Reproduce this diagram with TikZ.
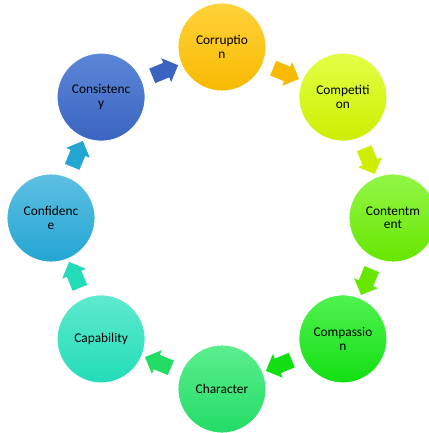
\documentclass[tikz,border=0pt]{standalone}
\usepackage{fontspec}
\setmainfont{Carlito}
\usetikzlibrary{shapes.arrows}

\definecolor{corrT}{HTML}{FFD23A}\definecolor{corrB}{HTML}{F8BA00}
\definecolor{compT}{HTML}{E2FF45}\definecolor{compB}{HTML}{CDEE00}
\definecolor{contT}{HTML}{93F746}\definecolor{contB}{HTML}{66E600}
\definecolor{cmpsT}{HTML}{50F250}\definecolor{cmpsB}{HTML}{12DF12}
\definecolor{charT}{HTML}{5CEE8E}\definecolor{charB}{HTML}{22DC66}
\definecolor{capaT}{HTML}{5EEACD}\definecolor{capaB}{HTML}{22DCB8}
\definecolor{confT}{HTML}{5DBFE2}\definecolor{confB}{HTML}{23A6D2}
\definecolor{consT}{HTML}{5C87D8}\definecolor{consB}{HTML}{3A64C0}

\tikzset{
  ring/.style={circle, minimum size=1.76cm, inner sep=0pt, align=center,
    draw=white, line width=0.5pt, font=\fontsize{7.6}{7.6}\selectfont},
  pfeil/.style={single arrow, minimum height=0.56cm, minimum width=0.5cm,
    single arrow head extend=0.1cm, inner sep=0.15cm, draw=none}
}

\begin{document}
\begin{tikzpicture}

\useasboundingbox (-4.44,-4.30) rectangle (4.14,4.36);

% die acht Kreise, im Uhrzeigersinn ab oben
\node[ring, top color=corrT, bottom color=corrB] (Corr) at (90:3.42) {Corruptio\\n};
\node[ring, top color=compT, bottom color=compB] (Comp) at (45:3.42) {Competiti\\on};
\node[ring, top color=contT, bottom color=contB] (Cont) at (0:3.42) {Contentm\\ent};
\node[ring, top color=cmpsT, bottom color=cmpsB] (Cmps) at (-45:3.42) {Compassio\\n};
\node[ring, top color=charT, bottom color=charB] (Char) at (-90:3.42) {Character};
\node[ring, top color=capaT, bottom color=capaB] (Capa) at (-135:3.42) {Capability};
\node[ring, top color=confT, bottom color=confB] (Conf) at (180:3.42) {Confidenc\\e};
\node[ring, top color=consT, bottom color=consB] (Cons) at (135:3.42) {Consistenc\\y};

% Blockpfeile zwischen den Kreisen
\node[pfeil, fill=corrB, rotate=-22.5] (a1) at (67.5:3.16) {};
\node[pfeil, fill=compB, rotate=-67.5] (a2) at (22.5:3.16) {};
\node[pfeil, fill=contB, rotate=-112.5] (a3) at (-22.5:3.16) {};
\node[pfeil, fill=cmpsB, rotate=-157.5] (a4) at (-67.5:3.16) {};
\node[pfeil, fill=charB, rotate=157.5] (a5) at (-112.5:3.16) {};
\node[pfeil, fill=capaB, rotate=112.5] (a6) at (-157.5:3.16) {};
\node[pfeil, fill=confB, rotate=67.5] (a7) at (157.5:3.16) {};
\node[pfeil, fill=consB, rotate=22.5] (a8) at (112.5:3.16) {};

\end{tikzpicture}
\end{document}
